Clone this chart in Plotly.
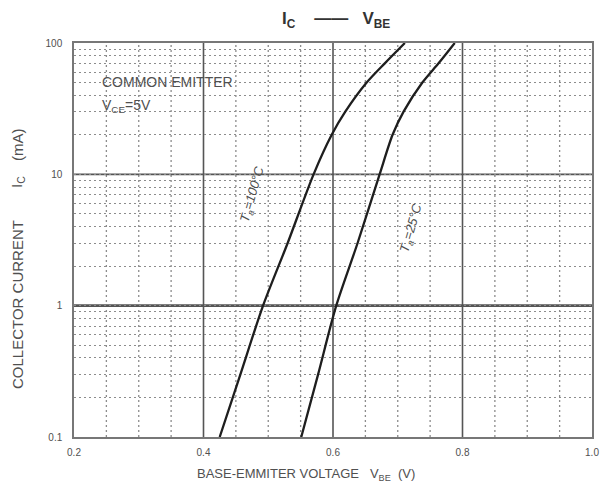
import plotly.graph_objects as go

# Data
v_100 = [0.425, 0.457, 0.492, 0.530, 0.570, 0.598, 0.619, 0.652, 0.680, 0.711]
i_100 = [0.1, 0.3, 1, 3, 10, 20, 30, 50, 70, 100]
v_25 = [0.551, 0.577, 0.605, 0.638, 0.672, 0.692, 0.709, 0.738, 0.763, 0.788]
i_25 = [0.1, 0.3, 1, 3, 10, 20, 30, 50, 70, 100]

y_ticks = [0.1, 1, 10, 100]
y_tick_text = ["0.1", "1", "10", "100"]

W, H = 603, 488
L, R, T, B = 74, 592, 43, 437

def px(x):
    return (x - L) / (R - L)

def py(y):
    return (B - y) / (B - T)

FONT = "Liberation Sans, Arial, sans-serif"
TXT = "#505050"
DOT = "2px,3px"

fig = go.Figure()
for v, i in [(v_100, i_100), (v_25, i_25)]:
    fig.add_trace(go.Scatter(x=v, y=i, mode="lines",
                             line=dict(color="#1e1e1e", width=2.3, shape="spline", smoothing=0.8),
                             showlegend=False, hoverinfo="skip"))

# minor vertical grid (dotted) every 0.05 V
minor_x = [round(0.2 + 0.05 * k, 2) for k in range(1, 16) if k % 4 != 0]
for xv in minor_x:
    fig.add_shape(type="line", xref="x", yref="paper", x0=xv, x1=xv, y0=0, y1=1,
                  line=dict(color="#8c8c8c", width=1.3, dash=DOT), layer="below")
# major grid lines (solid)
for xv in [0.4, 0.6, 0.8]:
    fig.add_shape(type="line", xref="x", yref="paper", x0=xv, x1=xv, y0=0, y1=1,
                  line=dict(color="#555555", width=1.6), layer="below")
fig.add_shape(type="line", xref="paper", yref="y", x0=0, x1=1, y0=10, y1=10,
              line=dict(color="#555555", width=1.6), layer="below")
fig.add_shape(type="line", xref="paper", yref="y", x0=0, x1=1, y0=1, y1=1,
              line=dict(color="#555555", width=2.6), layer="below")

def ann(text, x, y, size, angle=0, xanchor="center", color=TXT):
    return dict(text=text, xref="paper", yref="paper", x=px(x), y=py(y),
                xanchor=xanchor, yanchor="middle", textangle=angle,
                showarrow=False, font=dict(size=size, color=color))

fig.update_layout(
    width=W, height=H,
    margin=dict(l=L, r=W - R, t=T, b=H - B, pad=0, autoexpand=False),
    paper_bgcolor="white", plot_bgcolor="white",
    font=dict(family=FONT, color=TXT, size=10),
    xaxis=dict(range=[0.2, 1.0], tickmode="linear", tick0=0.2, dtick=0.2, tickformat=".1f",
               showgrid=False, zeroline=False, automargin=False,
               showline=True, linecolor="#777777", linewidth=1.5, mirror=True,
               ticks="outside", ticklen=5, tickcolor="rgba(0,0,0,0)",
               tickfont=dict(size=10, color=TXT)),
    yaxis=dict(type="log", range=[-1, 2], tickvals=y_ticks, ticktext=y_tick_text,
               showgrid=False, zeroline=False, automargin=False,
               showline=True, linecolor="#777777", linewidth=1.5, mirror=True,
               ticks="outside", ticklen=8, tickcolor="rgba(0,0,0,0)",
               tickfont=dict(size=10, color=TXT),
               minor=dict(dtick="D1", showgrid=True, gridcolor="#8c8c8c",
                          griddash=DOT, gridwidth=1.3)),
    annotations=[
        ann("<b>I<sub>C</sub>    ——   V<sub>BE</sub></b>", 336, 20, 17, color="#333333"),
        ann("COMMON EMITTER", 100, 82, 14, xanchor="left"),
        ann("V<sub>CE</sub>=5V", 100, 106, 14, xanchor="left"),
        ann("<i>T<sub>a</sub>=100°C</i>", 252, 195, 13, angle=-74),
        ann("<i>T<sub>a</sub>=25°C</i>", 411, 228, 13, angle=-74),
        ann("BASE-EMMITER VOLTAGE   V<sub>BE</sub>  (V)", 306, 474, 13),
        ann("COLLECTOR CURRENT", 17, 305, 15, angle=-90),
        ann("I<sub>C</sub>", 17, 182, 15, angle=-90),
        ann("(mA)", 17, 145, 15, angle=-90),
    ],
)

fig.write_html("out.html", config={"displayModeBar": False},
               post_script="document.body.style.margin='0';document.body.style.overflow='hidden';")
